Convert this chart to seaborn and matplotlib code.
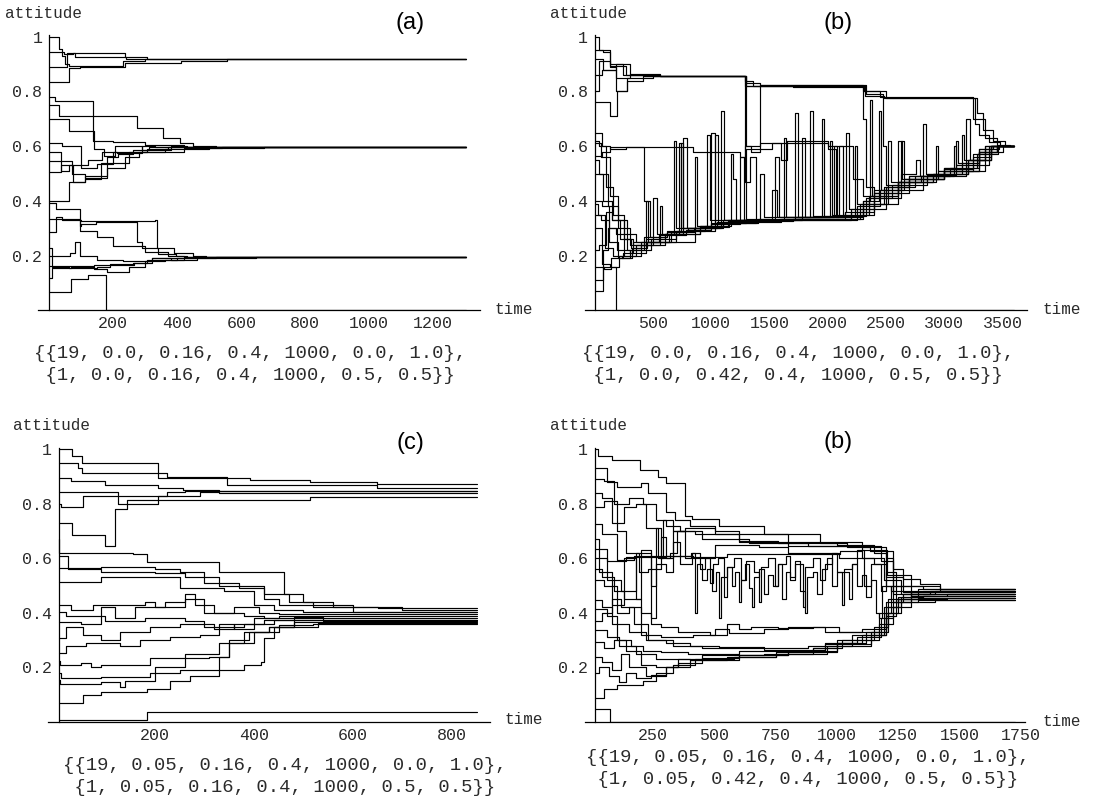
import matplotlib
matplotlib.use("Agg")
import matplotlib.pyplot as plt
import numpy as np
import pandas as pd
import seaborn as sns

sns.set_style("white")
plt.rcParams["font.family"] = ["Liberation Mono", "DejaVu Sans Mono"]

W, H = 1106, 808

# ---------------- chart content ----------------
PANEL_LABELS = ["(a)", "(b)", "(c)", "(b)"]
Y_LABEL = "attitude"
X_LABEL = "time"
Y_TICKS = [0.2, 0.4, 0.6, 0.8, 1.0]
Y_TICK_LABELS = ["0.2", "0.4", "0.6", "0.8", "1"]
X_MAJOR = [
    [200, 400, 600, 800, 1000, 1200],
    [500, 1000, 1500, 2000, 2500, 3000, 3500],
    [200, 400, 600, 800],
    [250, 500, 750, 1000, 1250, 1500, 1750],
]
X_MINOR_STEP = [50, 100, 50, 50]
X_MINOR_END = [1300, 3700, 850, 1750]
T_END = [1303, 3597, 850, 1727]
CAPTION_1 = [
    "{{19, 0.0, 0.16, 0.4, 1000, 0.0, 1.0},",
    "{{19, 0.0, 0.16, 0.4, 1000, 0.0, 1.0},",
    "{{19, 0.05, 0.16, 0.4, 1000, 0.0, 1.0},",
    "{{19, 0.05, 0.16, 0.4, 1000, 0.0, 1.0},",
]
CAPTION_2 = [
    " {1, 0.0, 0.16, 0.4, 1000, 0.5, 0.5}}",
    " {1, 0.0, 0.42, 0.4, 1000, 0.5, 0.5}}",
    " {1, 0.05, 0.16, 0.4, 1000, 0.5, 0.5}}",
    " {1, 0.05, 0.42, 0.4, 1000, 0.5, 0.5}}",
]

# agent trajectories: (time, attitude) change points
PATHS_A = [
    [(0, 1.0), (30, 0.955), (40, 0.93), (50, 0.90), (60, 0.892), (230, 0.91), (300, 0.918)],
    [(0, 0.945), (45, 0.935), (75, 0.94), (235, 0.925), (305, 0.918)],
    [(0, 0.89), (55, 0.94), (80, 0.925), (240, 0.92), (310, 0.918)],
    [(0, 0.836), (60, 0.885), (95, 0.89), (235, 0.905), (410, 0.913), (555, 0.918)],
    [(0, 0.78), (18, 0.765), (137, 0.62), (200, 0.615), (300, 0.605), (420, 0.597)],
    [(0, 0.75), (30, 0.71), (273, 0.667), (356, 0.63), (408, 0.61), (450, 0.60), (520, 0.597)],
    [(0, 0.70), (60, 0.655), (140, 0.59), (170, 0.565), (205, 0.60), (290, 0.585), (380, 0.60), (430, 0.597)],
    [(0, 0.612), (40, 0.60), (100, 0.52), (150, 0.535), (200, 0.58), (305, 0.59), (370, 0.597)],
    [(0, 0.58), (35, 0.51), (60, 0.53), (120, 0.55), (165, 0.58), (210, 0.575), (290, 0.60), (330, 0.597)],
    [(0, 0.545), (70, 0.50), (110, 0.485), (180, 0.56), (215, 0.57), (260, 0.585), (310, 0.597)],
    [(0, 0.505), (35, 0.53), (75, 0.47), (110, 0.48), (160, 0.54), (250, 0.58), (360, 0.59), (500, 0.595), (540, 0.597)],
    [(0, 0.40), (60, 0.47), (110, 0.49), (180, 0.52), (235, 0.56), (280, 0.58), (420, 0.592), (670, 0.597)],
    [(0, 0.393), (20, 0.37), (95, 0.33), (100, 0.327), (330, 0.33), (335, 0.23), (390, 0.21), (450, 0.20), (490, 0.195)],
    [(0, 0.333), (25, 0.335), (95, 0.31), (100, 0.315), (145, 0.325), (275, 0.25), (290, 0.23), (340, 0.205), (395, 0.20), (430, 0.195)],
    [(0, 0.285), (20, 0.34), (40, 0.33), (95, 0.29), (150, 0.27), (200, 0.235), (300, 0.215), (370, 0.20), (420, 0.195)],
    [(0, 0.23), (8, 0.20), (65, 0.21), (80, 0.25), (95, 0.20), (150, 0.185), (230, 0.18), (320, 0.19), (380, 0.192), (520, 0.195)],
    [(0, 0.20), (8, 0.16), (60, 0.155), (150, 0.16), (190, 0.17), (260, 0.175), (305, 0.185), (400, 0.19), (645, 0.195)],
    [(0, 0.164), (140, 0.165), (265, 0.175), (320, 0.19), (380, 0.185), (460, 0.195)],
    [(0, 0.118), (8, 0.155), (68, 0.16), (140, 0.15), (180, 0.14), (250, 0.16), (300, 0.18), (360, 0.185), (420, 0.195)],
    [(0, 0.067), (68, 0.115), (120, 0.13), (178, 0.0)],
]

PATHS_B = [
    [(0, 1.0), (40, 0.95), (130, 0.90), (300, 0.86), (560, 0.857), (1300, 0.83), (1420, 0.824), (2300, 0.80), (2500, 0.775), (3280, 0.72), (3330, 0.66), (3420, 0.62), (3520, 0.60)],
    [(0, 0.952), (70, 0.945), (130, 0.892), (270, 0.86), (420, 0.857), (1290, 0.84), (1360, 0.82), (2320, 0.785), (2480, 0.775), (3260, 0.68), (3300, 0.64), (3380, 0.615), (3480, 0.60)],
    [(0, 0.80), (40, 0.91), (130, 0.89), (185, 0.80), (275, 0.85), (500, 0.857), (1300, 0.82), (1700, 0.815), (2310, 0.80), (2450, 0.78), (3250, 0.70), (3350, 0.63), (3450, 0.605), (3560, 0.60)],
    [(0, 0.763), (130, 0.71), (190, 0.80), (280, 0.84), (415, 0.857), (1290, 0.82), (2304, 0.70), (2330, 0.45), (2400, 0.43), (2600, 0.47), (2900, 0.50), (3200, 0.55), (3400, 0.60)],
    [(0, 0.92), (70, 0.88), (185, 0.85), (300, 0.862), (560, 0.857), (1300, 0.60), (1340, 0.58), (1420, 0.825), (2330, 0.79), (2470, 0.60), (2500, 0.46), (2700, 0.48), (3000, 0.51), (3300, 0.58), (3450, 0.60)],
    [(0, 0.07), (70, 0.16), (186, 0.0)],
    [(0, 0.65), (60, 0.60), (100, 0.45), (160, 0.35), (250, 0.26), (330, 0.24), (440, 0.40), (470, 0.27), (620, 0.29), (680, 0.62), (700, 0.30), (900, 0.31), (960, 0.64), (990, 0.33), (1300, 0.335), (1550, 0.56), (1580, 0.34), (2150, 0.36), (2160, 0.65), (2180, 0.37), (2400, 0.44), (2630, 0.62), (2650, 0.48), (3000, 0.52), (3100, 0.62), (3120, 0.54), (3300, 0.59), (3450, 0.60)],
    [(0, 0.61), (50, 0.56), (130, 0.42), (200, 0.33), (280, 0.22), (420, 0.27), (500, 0.41), (530, 0.28), (760, 0.63), (790, 0.30), (1000, 0.65), (1030, 0.32), (1250, 0.56), (1280, 0.33), (1720, 0.72), (1740, 0.34), (2050, 0.60), (2080, 0.345), (2300, 0.40), (2440, 0.73), (2460, 0.44), (2820, 0.68), (2840, 0.50), (3150, 0.64), (3170, 0.55), (3350, 0.60)],
    [(0, 0.55), (40, 0.50), (110, 0.38), (200, 0.30), (300, 0.24), (560, 0.38), (580, 0.28), (720, 0.61), (740, 0.30), (1080, 0.73), (1110, 0.33), (1420, 0.50), (1450, 0.34), (1850, 0.73), (1870, 0.345), (2230, 0.60), (2250, 0.39), (2520, 0.62), (2540, 0.47), (2930, 0.60), (2950, 0.51), (3300, 0.59), (3420, 0.60)],
    [(0, 0.50), (70, 0.40), (150, 0.33), (250, 0.28), (350, 0.25), (860, 0.56), (880, 0.31), (1170, 0.57), (1190, 0.48), (1210, 0.33), (1620, 0.63), (1640, 0.34), (1950, 0.70), (1970, 0.345), (2330, 0.41), (2630, 0.50), (2760, 0.55), (2790, 0.49), (3080, 0.60), (3100, 0.53), (3380, 0.60)],
    [(0, 0.40), (60, 0.38), (120, 0.30), (190, 0.22), (300, 0.21), (440, 0.26), (600, 0.28), (680, 0.29), (1030, 0.64), (1060, 0.32), (1300, 0.33), (1780, 0.63), (1800, 0.34), (2100, 0.60), (2130, 0.35), (2400, 0.43), (2700, 0.49), (3000, 0.515), (3250, 0.57), (3400, 0.60)],
    [(0, 0.39), (30, 0.35), (90, 0.23), (160, 0.20), (230, 0.19), (300, 0.22), (480, 0.26), (700, 0.29), (950, 0.31), (1140, 0.33), (1520, 0.44), (1560, 0.34), (2020, 0.62), (2040, 0.35), (2350, 0.42), (2600, 0.47), (2900, 0.50), (3200, 0.55), (3350, 0.59), (3470, 0.60)],
    [(0, 0.35), (50, 0.33), (120, 0.25), (200, 0.19), (320, 0.23), (450, 0.25), (640, 0.28), (900, 0.31), (1100, 0.32), (1400, 0.335), (2150, 0.36), (2350, 0.41), (2550, 0.46), (2850, 0.495), (3100, 0.53), (3300, 0.58), (3450, 0.60)],
    [(0, 0.30), (60, 0.17), (130, 0.16), (210, 0.20), (350, 0.24), (500, 0.27), (620, 0.285), (800, 0.30), (1050, 0.325), (1600, 0.335), (2200, 0.37), (2500, 0.45), (2700, 0.48), (3000, 0.51), (3250, 0.56), (3400, 0.60)],
    [(0, 0.22), (40, 0.24), (100, 0.36), (150, 0.33), (220, 0.26), (310, 0.23), (400, 0.25), (650, 0.285), (850, 0.30), (1000, 0.32), (1380, 0.33), (2250, 0.38), (2450, 0.44), (2650, 0.48), (2950, 0.51), (3150, 0.54), (3300, 0.58), (3500, 0.60)],
    [(0, 0.16), (80, 0.15), (140, 0.19), (240, 0.21), (330, 0.25), (550, 0.275), (780, 0.295), (1000, 0.315), (1250, 0.33), (2200, 0.36), (2400, 0.43), (2600, 0.47), (2850, 0.50), (3200, 0.55), (3400, 0.60)],
    [(0, 0.11), (70, 0.22), (110, 0.30), (180, 0.28), (250, 0.20), (400, 0.24), (600, 0.28), (900, 0.305), (1150, 0.328), (1700, 0.335), (2280, 0.39), (2480, 0.45), (2750, 0.49), (3050, 0.52), (3280, 0.57), (3460, 0.60)],
    [(0, 0.565), (60, 0.58), (130, 0.598), (844, 0.58), (1245, 0.56), (1290, 0.60), (1416, 0.61), (2000, 0.60), (2220, 0.48), (2300, 0.42), (2500, 0.45), (2700, 0.49), (3000, 0.52), (3300, 0.58), (3450, 0.60)],
    [(0, 0.86), (60, 0.88), (185, 0.90), (240, 0.86), (560, 0.857), (1290, 0.47), (1330, 0.56), (1380, 0.33), (1700, 0.335), (2304, 0.40), (2360, 0.77), (2380, 0.42), (2600, 0.47), (2800, 0.49), (3190, 0.70), (3220, 0.55), (3400, 0.60)],
    [(0, 0.62), (40, 0.60), (130, 0.59), (270, 0.597), (420, 0.40), (460, 0.25), (700, 0.29), (740, 0.61), (760, 0.30), (1100, 0.33), (1300, 0.59), (1520, 0.61), (1600, 0.55), (1650, 0.62), (2000, 0.59), (2070, 0.34), (2300, 0.39), (2600, 0.62), (2640, 0.48), (3000, 0.51), (3350, 0.60)],
]

PATHS_C = [
    [(0, 1.0), (32, 0.976), (52, 0.95), (207, 0.895), (392, 0.886), (513, 0.879), (648, 0.874)],
    [(0, 0.949), (45, 0.93), (52, 0.913), (224, 0.90), (345, 0.87), (648, 0.858)],
    [(0, 0.895), (30, 0.885), (100, 0.87), (207, 0.857), (257, 0.85), (330, 0.848)],
    [(0, 0.842), (110, 0.845), (125, 0.80), (207, 0.83), (224, 0.845), (260, 0.848)],
    [(0, 0.80), (10, 0.79), (55, 0.83), (290, 0.845), (330, 0.840)],
    [(0, 0.73), (32, 0.685), (100, 0.646), (119, 0.78), (143, 0.815), (513, 0.825)],
    [(0, 0.67), (5, 0.62), (156, 0.615), (183, 0.585), (330, 0.55), (460, 0.47), (500, 0.44), (560, 0.42), (650, 0.419)],
    [(0, 0.61), (25, 0.56), (90, 0.55), (200, 0.545), (260, 0.53), (330, 0.50), (420, 0.47), (470, 0.44), (520, 0.42), (700, 0.412)],
    [(0, 0.564), (90, 0.57), (200, 0.56), (250, 0.55), (300, 0.51), (370, 0.49), (420, 0.45), (450, 0.43), (600, 0.405)],
    [(0, 0.513), (90, 0.53), (230, 0.53), (250, 0.49), (340, 0.48), (400, 0.43), (440, 0.41), (500, 0.405)],
    [(0, 0.43), (30, 0.41), (75, 0.43), (180, 0.44), (200, 0.42), (260, 0.45), (300, 0.40), (360, 0.42), (410, 0.40), (450, 0.397)],
    [(0, 0.404), (20, 0.39), (100, 0.37), (180, 0.38), (260, 0.37), (300, 0.35), (330, 0.36), (360, 0.34), (400, 0.38), (450, 0.39)],
    [(0, 0.367), (50, 0.36), (90, 0.42), (120, 0.38), (160, 0.42), (220, 0.44), (260, 0.47), (280, 0.43), (320, 0.40), (380, 0.39), (420, 0.382)],
    [(0, 0.307), (20, 0.35), (55, 0.32), (90, 0.30), (130, 0.33), (190, 0.35), (250, 0.36), (320, 0.34), (360, 0.36), (420, 0.375)],
    [(0, 0.252), (20, 0.28), (60, 0.29), (130, 0.28), (170, 0.30), (230, 0.31), (290, 0.32), (330, 0.35), (380, 0.36), (440, 0.375)],
    [(0, 0.222), (8, 0.21), (50, 0.215), (70, 0.20), (90, 0.21), (140, 0.21), (190, 0.235), (310, 0.24), (350, 0.30), (390, 0.33), (430, 0.35), (480, 0.367)],
    [(0, 0.18), (10, 0.16), (90, 0.165), (190, 0.18), (250, 0.19), (330, 0.24), (350, 0.29), (400, 0.33), (450, 0.355), (520, 0.36)],
    [(0, 0.155), (8, 0.14), (90, 0.145), (130, 0.13), (140, 0.15), (200, 0.20), (260, 0.25), (330, 0.29), (380, 0.33), (430, 0.35), (530, 0.362)],
    [(0, 0.07), (55, 0.10), (90, 0.11), (183, 0.12), (230, 0.15), (270, 0.17), (330, 0.19), (380, 0.21), (415, 0.22), (420, 0.307), (440, 0.35), (480, 0.385), (540, 0.37)],
    [(0, 0.008), (183, 0.036)],
]

PATHS_D = [
    [(0, 1.0), (25, 0.975), (80, 0.96), (195, 0.925), (270, 0.90), (300, 0.876), (380, 0.755), (410, 0.745), (520, 0.72), (700, 0.69), (931, 0.658), (1040, 0.64), (1135, 0.628), (1230, 0.56), (1270, 0.525), (1340, 0.507), (1420, 0.488)],
    [(0, 0.93), (60, 0.88), (100, 0.86), (200, 0.875), (230, 0.84), (300, 0.77), (340, 0.74), (400, 0.72), (500, 0.70), (600, 0.665), (760, 0.655), (1000, 0.65), (1150, 0.62), (1200, 0.50), (1260, 0.47), (1400, 0.479)],
    [(0, 0.89), (50, 0.885), (90, 0.80), (150, 0.82), (210, 0.80), (260, 0.74), (300, 0.72), (360, 0.70), (420, 0.69), (600, 0.66), (800, 0.645), (1100, 0.63), (1203, 0.54), (1300, 0.50), (1420, 0.482)],
    [(0, 0.84), (40, 0.82), (80, 0.73), (130, 0.79), (180, 0.80), (220, 0.71), (270, 0.60), (290, 0.74), (330, 0.70), (450, 0.67), (640, 0.655), (880, 0.645), (1180, 0.59), (1230, 0.47), (1300, 0.462), (1450, 0.47)],
    [(0, 0.79), (50, 0.81), (100, 0.70), (140, 0.62), (190, 0.55), (230, 0.56), (280, 0.68), (300, 0.60), (330, 0.70), (380, 0.71), (500, 0.69), (800, 0.66), (1100, 0.64), (1200, 0.60), (1230, 0.44), (1300, 0.45), (1450, 0.454)],
    [(0, 0.725), (40, 0.69), (100, 0.595), (170, 0.61), (413, 0.605), (550, 0.615), (1012, 0.628), (1100, 0.60), (1190, 0.52), (1260, 0.50), (1350, 0.488)],
    [(0, 0.67), (30, 0.55), (80, 0.43), (130, 0.60), (180, 0.45), (200, 0.63), (240, 0.50), (260, 0.71), (280, 0.60), (320, 0.62), (345, 0.70), (380, 0.60), (405, 0.62), (420, 0.40), (430, 0.58), (450, 0.52), (470, 0.56), (490, 0.48), (505, 0.55), (520, 0.38), (528, 0.53), (550, 0.57), (570, 0.50), (585, 0.55), (600, 0.44), (608, 0.52), (625, 0.58), (640, 0.49), (655, 0.42), (662, 0.53), (680, 0.56), (700, 0.47), (720, 0.54), (740, 0.50), (760, 0.58), (775, 0.45), (790, 0.55), (810, 0.52), (830, 0.59), (850, 0.48), (870, 0.40), (878, 0.53), (900, 0.55), (920, 0.47), (940, 0.56), (960, 0.60), (980, 0.50), (1000, 0.55), (1020, 0.43), (1030, 0.56), (1060, 0.58), (1080, 0.50), (1100, 0.54), (1120, 0.46), (1140, 0.52), (1160, 0.40), (1170, 0.38), (1185, 0.50), (1220, 0.48), (1300, 0.47)],
    [(0, 0.634), (60, 0.52), (120, 0.48), (180, 0.62), (240, 0.38), (260, 0.58), (300, 0.55), (330, 0.66), (360, 0.58), (410, 0.62), (440, 0.56), (460, 0.60), (480, 0.51), (495, 0.58), (515, 0.60), (540, 0.46), (550, 0.57), (580, 0.60), (610, 0.52), (630, 0.59), (660, 0.55), (680, 0.44), (690, 0.57), (720, 0.60), (745, 0.50), (760, 0.58), (790, 0.61), (810, 0.53), (830, 0.58), (860, 0.42), (868, 0.57), (900, 0.60), (930, 0.52), (950, 0.58), (980, 0.62), (1000, 0.55), (1050, 0.45), (1060, 0.58), (1080, 0.63), (1110, 0.50), (1140, 0.58), (1180, 0.48), (1200, 0.55), (1240, 0.45), (1330, 0.454)],
    [(0, 0.60), (60, 0.59), (140, 0.605), (300, 0.61), (413, 0.60), (500, 0.65), (680, 0.64), (800, 0.62), (1010, 0.60), (1150, 0.58), (1200, 0.53), (1270, 0.476), (1400, 0.476)],
    [(0, 0.56), (40, 0.53), (90, 0.48), (130, 0.45), (200, 0.40), (240, 0.36), (280, 0.35), (350, 0.33), (480, 0.32), (550, 0.36), (600, 0.34), (650, 0.35), (760, 0.345), (900, 0.35), (1010, 0.33), (1100, 0.33), (1170, 0.40), (1220, 0.50), (1300, 0.47), (1400, 0.47)],
    [(0, 0.52), (50, 0.50), (100, 0.40), (150, 0.42), (200, 0.32), (280, 0.31), (413, 0.32), (500, 0.34), (560, 0.325), (700, 0.34), (800, 0.35), (950, 0.33), (1100, 0.34), (1200, 0.42), (1250, 0.45), (1350, 0.461)],
    [(0, 0.446), (40, 0.42), (80, 0.36), (150, 0.33), (220, 0.30), (300, 0.29), (400, 0.28), (520, 0.275), (700, 0.27), (880, 0.28), (1000, 0.30), (1150, 0.35), (1210, 0.40), (1260, 0.44), (1330, 0.446)],
    [(0, 0.416), (60, 0.39), (100, 0.30), (160, 0.28), (210, 0.26), (280, 0.255), (390, 0.25), (600, 0.26), (900, 0.27), (1000, 0.29), (1080, 0.31), (1180, 0.38), (1230, 0.42), (1300, 0.44), (1400, 0.446)],
    [(0, 0.37), (40, 0.40), (80, 0.45), (120, 0.42), (170, 0.36), (230, 0.30), (330, 0.28), (450, 0.27), (700, 0.265), (950, 0.285), (1140, 0.33), (1200, 0.39), (1240, 0.45), (1330, 0.454)],
    [(0, 0.337), (60, 0.31), (110, 0.28), (180, 0.25), (260, 0.23), (400, 0.228), (600, 0.245), (800, 0.255), (1000, 0.28), (1140, 0.32), (1190, 0.42), (1260, 0.46), (1350, 0.461)],
    [(0, 0.295), (50, 0.27), (90, 0.30), (140, 0.26), (200, 0.21), (260, 0.20), (350, 0.23), (450, 0.246), (700, 0.25), (900, 0.27), (1020, 0.30), (1170, 0.36), (1230, 0.44), (1300, 0.47)],
    [(0, 0.24), (40, 0.22), (80, 0.19), (120, 0.25), (150, 0.20), (220, 0.17), (300, 0.20), (400, 0.228), (550, 0.24), (750, 0.25), (960, 0.28), (1060, 0.32), (1200, 0.44), (1270, 0.47), (1380, 0.479)],
    [(0, 0.18), (30, 0.20), (70, 0.17), (110, 0.145), (140, 0.18), (180, 0.16), (240, 0.173), (300, 0.20), (350, 0.215), (450, 0.235), (600, 0.245), (800, 0.26), (1000, 0.29), (1120, 0.33), (1210, 0.45), (1300, 0.482)],
    [(0, 0.088), (50, 0.12), (100, 0.137), (210, 0.15), (260, 0.18), (330, 0.21), (420, 0.23), (580, 0.24), (750, 0.255), (950, 0.29), (1100, 0.32), (1200, 0.40), (1250, 0.46), (1330, 0.488)],
    [(0, 0.046), (73, 0.0)],
]

ALL_PATHS = [PATHS_A, PATHS_B, PATHS_C, PATHS_D]

# ---------------- layout (pixel geometry) ----------------
# (t=0 pixel, px per time unit, axis line left px, axis line right px, y=0 px, y=1 px, y-axis origin time)
GEOM = [
    (49.3, 0.320, 38, 480, 310.5, 36.7, 0),
    (594.8, 0.1165, 585, 1027, 310.5, 36.7, 0),
    (56.0, 0.495, 48, 490, 722.0, 449.3, 6),
    (592.0, 0.245, 585, 1025, 722.0, 449.3, 12),
]
LABEL_POS = [(410, 23), (838, 23), (410, 443), (838, 442)]
YLABEL_POS = [(5, 14), (550, 14), (13, 426), (550, 425)]
XLABEL_POS = [(495, 309), (1042, 309), (505, 720), (1042, 721)]
CAP_POS = [(34, 353, 376), (582, 353, 375), (63, 766, 787), (586, 757, 780)]

YTOP = 1.03
TXT = "#2b2b2b"

fig = plt.figure(figsize=(W / 100, H / 100), dpi=100)
fig.patch.set_facecolor("white")

for i in range(4):
    x0px, s, axl, axr, py0, py1, orig = GEOM[i]
    xl = (axl - x0px) / s
    xr = (axr - x0px) / s
    rect = [axl / W, (H - py0) / H, (axr - axl) / W, YTOP * (py0 - py1) / H]
    ax = fig.add_axes(rect)
    ax.set_facecolor("none")

    rows = []
    for k, path in enumerate(ALL_PATHS[i]):
        for j, (t, v) in enumerate(path):
            rows.append((k, max(t, orig), v))
        rows.append((k, T_END[i], path[-1][1]))
    df = pd.DataFrame(rows, columns=["agent", "t", "y"])
    sns.lineplot(data=df, x="t", y="y", units="agent", estimator=None, sort=False,
                 color="black", linewidth=0.85, drawstyle="steps-post",
                 legend=False, ax=ax)

    ax.set_xlim(xl, xr)
    ax.set_ylim(0, YTOP)
    ax.set_xlabel("")
    ax.set_ylabel("")
    for sp in ("top", "right"):
        ax.spines[sp].set_visible(False)
    ax.spines["left"].set_position(("data", orig))
    ax.spines["bottom"].set_position(("data", 0))
    ax.spines["left"].set_bounds(0, 1.005)
    for sp in ("left", "bottom"):
        ax.spines[sp].set_linewidth(0.9)
        ax.spines[sp].set_color("black")

    ax.set_xticks(X_MAJOR[i])
    ax.set_xticklabels([str(v) for v in X_MAJOR[i]])
    ax.set_xticks(np.arange(X_MINOR_STEP[i], X_MINOR_END[i] + 1, X_MINOR_STEP[i]), minor=True)
    ax.set_yticks(Y_TICKS)
    ax.set_yticklabels(Y_TICK_LABELS)
    ax.set_yticks(np.arange(0.05, 1.0, 0.05), minor=True)
    ax.tick_params(axis="x", which="major", direction="in", length=5, width=0.8,
                   labelsize=12, pad=4, colors="black", labelcolor=TXT)
    ax.tick_params(axis="x", which="minor", direction="in", length=3, width=0.7, colors="black")
    ax.tick_params(axis="y", which="major", direction="in", length=4, width=0.8,
                   labelsize=12, pad=5, colors="black", labelcolor=TXT)
    ax.tick_params(axis="y", which="minor", direction="in", length=2, width=0.6, colors="black")
    ax.grid(False)

    lx, ly = LABEL_POS[i]
    fig.text(lx / W, 1 - ly / H, PANEL_LABELS[i], ha="center", va="center",
             fontsize=17, family=["Liberation Sans", "DejaVu Sans"], color="black")
    yx, yy = YLABEL_POS[i]
    fig.text(yx / W, 1 - yy / H, Y_LABEL, ha="left", va="center", fontsize=11.5, color=TXT)
    tx, ty = XLABEL_POS[i]
    fig.text(tx / W, 1 - ty / H, X_LABEL, ha="left", va="center", fontsize=11.5, color=TXT)
    cx, cy1, cy2 = CAP_POS[i]
    fig.text(cx / W, 1 - cy1 / H, CAPTION_1[i], ha="left", va="center", fontsize=13.6, color=TXT)
    fig.text(cx / W, 1 - cy2 / H, CAPTION_2[i], ha="left", va="center", fontsize=13.6, color=TXT)

fig.savefig("out.png", dpi=100, facecolor="white")
